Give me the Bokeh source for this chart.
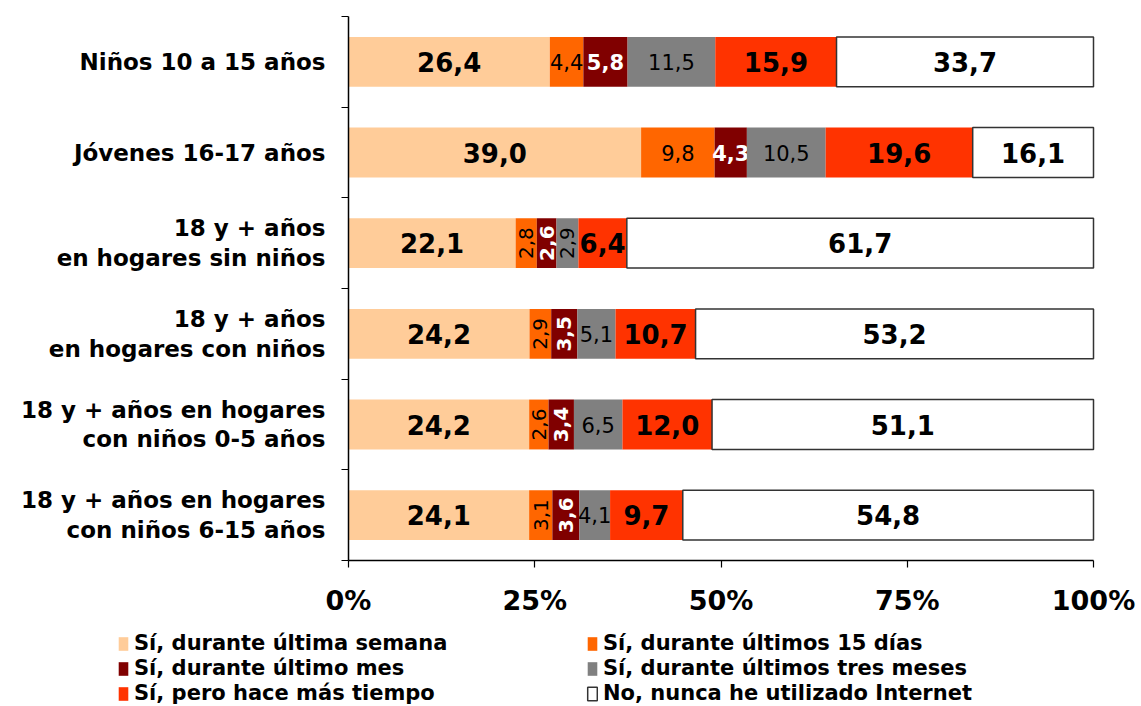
import math
from bokeh.plotting import figure
from bokeh.models import ColumnDataSource, Range1d, FixedTicker, Legend, LegendItem
from bokeh.core.properties import value
from bokeh.embed import file_html
from bokeh.resources import INLINE

# ---------------- data ----------------
categories = [
    "Niños 10 a 15 años",
    "Jóvenes 16-17 años",
    "18 y + años\nen hogares sin niños",
    "18 y + años\nen hogares con niños",
    "18 y + años en hogares\ncon niños 0-5 años",
    "18 y + años en hogares\ncon niños 6-15 años",
]
series_names = [
    "Sí, durante última semana",
    "Sí, durante últimos 15 días",
    "Sí, durante último mes",
    "Sí, durante últimos tres meses",
    "Sí, pero hace más tiempo",
    "No, nunca he utilizado Internet",
]
semana = [26.4, 39.0, 22.1, 24.2, 24.2, 24.1]
dias15 = [4.4, 9.8, 2.8, 2.9, 2.6, 3.1]
mes = [5.8, 4.3, 2.6, 3.5, 3.4, 3.6]
tres_meses = [11.5, 10.5, 2.9, 5.1, 6.5, 4.1]
mas_tiempo = [15.9, 19.6, 6.4, 10.7, 12.0, 9.7]
nunca = [33.7, 16.1, 61.7, 53.2, 51.1, 54.8]
x_ticks = [0, 25, 50, 75, 100]
x_tick_labels = ["0%", "25%", "50%", "75%", "100%"]

series = [semana, dias15, mes, tres_meses, mas_tiempo, nunca]
colors = ["#FFCC99", "#FF6600", "#800000", "#808080", "#FF3300", "#FFFFFF"]
# label style per series: (font size, style, color)
label_styles = [
    ("26px", "bold", "#000000"),
    ("21px", "normal", "#000000"),
    ("21px", "bold", "#FFFFFF"),
    ("21px", "normal", "#000000"),
    ("26px", "bold", "#000000"),
    ("26px", "bold", "#000000"),
]
FONT = "DejaVu Sans"

# ---------------- layout (pixels) ----------------
W, H = 1141, 706
PX_LEFT, PX_RIGHT, PX_TOP, PX_BOTTOM = 348, 1093, 16, 560

n = len(categories)
ypos = [i + 0.5 for i in range(n)]
totals = [sum(s[i] for s in series) for i in range(n)]

# the plot frame covers the whole canvas; axes are pinned inside it
xscale = (PX_RIGHT - PX_LEFT) / 100.0
yscale = (PX_BOTTOM - PX_TOP) / n
x_range = Range1d(-PX_LEFT / xscale, 100 + (W - PX_RIGHT) / xscale)
y_range = Range1d(n + (H - PX_BOTTOM) / yscale, -PX_TOP / yscale)

p = figure(
    width=W, height=H, x_range=x_range, y_range=y_range,
    output_backend="svg", toolbar_location=None,
    min_border_left=0, min_border_right=0, min_border_top=0, min_border_bottom=0,
)
p.outline_line_color = None
p.xgrid.visible = False
p.ygrid.visible = False
p.background_fill_color = "white"

renderers = []
left = [0.0] * n
for k, vals in enumerate(series):
    share = [vals[i] / totals[i] * 100 for i in range(n)]
    right = [left[i] + share[i] for i in range(n)]
    src = ColumnDataSource(dict(y=ypos, left=list(left), right=right))
    r = p.hbar(
        y="y", left="left", right="right", height=0.55, source=src,
        fill_color=colors[k],
        line_color="#333333" if colors[k] == "#FFFFFF" else None,
        line_width=1.5,
    )
    renderers.append(r)
    # value labels
    xs = [(left[i] + right[i]) / 2 for i in range(n)]
    texts = [f"{v:.1f}".replace(".", ",") for v in vals]
    angles = [math.pi / 2 if v < 4 else 0.0 for v in vals]
    size, style, col = label_styles[k]
    sizes = [("20px" if a else size) for a in angles]
    lsrc = ColumnDataSource(dict(x=xs, y=ypos, text=texts, angle=angles, size=sizes))
    p.text(
        x="x", y="y", text="text", angle="angle", source=lsrc,
        text_font=value(FONT), text_font_style=style, text_font_size="size",
        text_color=col, text_align="center", text_baseline="middle",
    )
    left = right

# x axis (pinned at the bottom of the bars area)
xa = p.xaxis[0]
xa.fixed_location = n
xa.bounds = (0, 100)
xa.ticker = FixedTicker(ticks=x_ticks, minor_ticks=[])
xa.major_label_overrides = {t: l for t, l in zip(x_ticks, x_tick_labels)}
xa.major_label_text_font = FONT
xa.major_label_text_font_style = "bold"
xa.major_label_text_font_size = "27px"
xa.major_label_text_color = "#000000"
xa.major_label_standoff = 17
xa.major_tick_out = 7
xa.major_tick_in = 0
xa.minor_tick_out = 0
xa.axis_line_width = 1.5
xa.axis_line_color = "#000000"
xa.major_tick_line_color = "#000000"
xa.major_tick_line_width = 1.2

# y axis (pinned at 0%)
ya = p.yaxis[0]
ya.fixed_location = 0
ya.bounds = (0, n)
ya.ticker = FixedTicker(ticks=ypos, minor_ticks=list(range(n + 1)))
ya.major_label_overrides = {y: c for y, c in zip(ypos, categories)}
ya.major_label_text_font = FONT
ya.major_label_text_font_style = "bold"
ya.major_label_text_font_size = "23px"
ya.major_label_text_color = "#000000"
ya.major_label_text_line_height = 1.15
ya.major_label_standoff = 16
ya.major_tick_out = 0
ya.major_tick_in = 0
ya.minor_tick_out = 7
ya.minor_tick_in = 0
ya.minor_tick_line_color = "#000000"
ya.minor_tick_line_width = 1.2
ya.axis_line_width = 1.5
ya.axis_line_color = "#000000"

# legends: two columns of three items
def make_legend(idx, loc):
    return Legend(
        items=[LegendItem(label=series_names[k], renderers=[renderers[k]]) for k in idx],
        location=loc, orientation="vertical",
        glyph_width=12, glyph_height=17, label_standoff=5, spacing=1,
        label_height=22, padding=0, margin=0,
        border_line_color=None, background_fill_alpha=0,
        label_text_font=FONT, label_text_font_style="bold",
        label_text_font_size="21px", label_text_color="#000000",
    )

p.add_layout(make_legend([0, 2, 4], (117, 1)))
p.add_layout(make_legend([1, 3, 5], (586, 1)))

open("out.html", "w").write(file_html(p, INLINE))
